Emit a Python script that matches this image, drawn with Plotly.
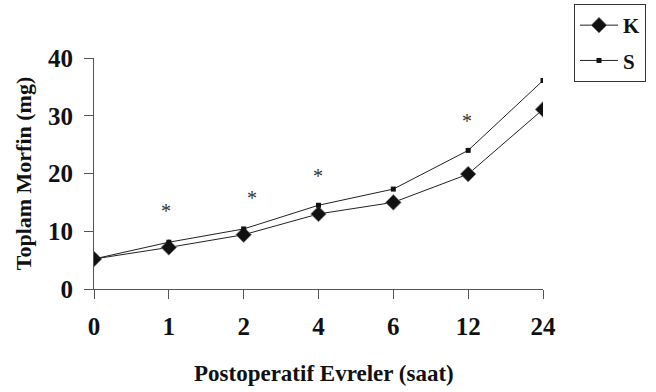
import plotly.graph_objects as go

categories = ["0", "1", "2", "4", "6", "12", "24"]
k_values = [5.2, 7.2, 9.4, 13.0, 15.0, 19.9, 31.1]
s_values = [5.2, 8.1, 10.4, 14.5, 17.3, 24.0, 36.1]
star_cats = ["1", "2", "4", "12"]
star_values = [14.2, 16.4, 20.3, 29.7]
star_xshift = [-3, 8, -1, -1]
y_ticks = [0, 10, 20, 30, 40]

font_family = "Liberation Serif, DejaVu Serif, serif"
line_col = "#222222"

fig = go.Figure()
fig.add_trace(go.Scatter(
    x=categories, y=k_values, name="K", mode="lines+markers",
    line=dict(color=line_col, width=1),
    marker=dict(symbol="diamond", size=12, color="#111111", line=dict(color="#888888", width=0.8)),
    legendgroup="k",
))
fig.add_trace(go.Scatter(
    x=categories, y=s_values, name="S", mode="lines+markers",
    line=dict(color=line_col, width=1),
    marker=dict(symbol="square", size=5, color="#111111"),
    legendgroup="s",
))

for c, v, dx in zip(star_cats, star_values, star_xshift):
    fig.add_annotation(x=categories.index(c), y=v, text="*", showarrow=False,
                       xshift=dx, yshift=-4,
                       font=dict(family=font_family, size=20, color="#333333"))

# x-axis title as annotation (slightly right of plot centre in the reference)
fig.add_annotation(x=(324 - 94) / 449, y=(289 - 373) / 231, xref="paper", yref="paper",
                   text="Postoperatif Evreler (saat)", showarrow=False,
                   xanchor="center", yanchor="middle",
                   font=dict(family=font_family, size=23, color="#111111", weight="bold"))

fig.update_layout(
    width=656, height=392, autosize=False,
    margin=dict(l=94, r=113, t=58, b=103, autoexpand=False),
    paper_bgcolor="white", plot_bgcolor="white",
    font=dict(family=font_family, color="#111111"),
    showlegend=True,
    legend=dict(
        x=(574 - 94) / 449, y=(289 - 4) / 231, xanchor="left", yanchor="top",
        bordercolor="#333333", borderwidth=1, bgcolor="white",
        font=dict(family=font_family, size=21, color="#111111", weight="bold"),
        tracegroupgap=5, itemwidth=38,
    ),
)
fig.update_xaxes(
    type="category", range=[0, 6], showgrid=False, zeroline=False,
    showline=True, linecolor="#555555", linewidth=1,
    ticks="outside", ticklen=9, tickcolor="#555555", tickwidth=1,
    tickfont=dict(family=font_family, size=25, color="#111111", weight="bold"),
    ticklabelstandoff=6,
    automargin=False,
)
fig.update_yaxes(
    range=[0, 40], tickvals=y_ticks, showgrid=False, zeroline=False,
    showline=True, linecolor="#555555", linewidth=1,
    ticks="outside", ticklen=9, tickcolor="#555555", tickwidth=1,
    tickfont=dict(family=font_family, size=25, color="#111111", weight="bold"),
    ticklabelstandoff=6,
    automargin=False,
    title=dict(text="Toplam Morfin (mg)", standoff=10,
               font=dict(family=font_family, size=22, color="#111111", weight="bold")),
)

fig.write_html("out.html", config={"displayModeBar": False},
               post_script="document.body.style.margin='0';")
